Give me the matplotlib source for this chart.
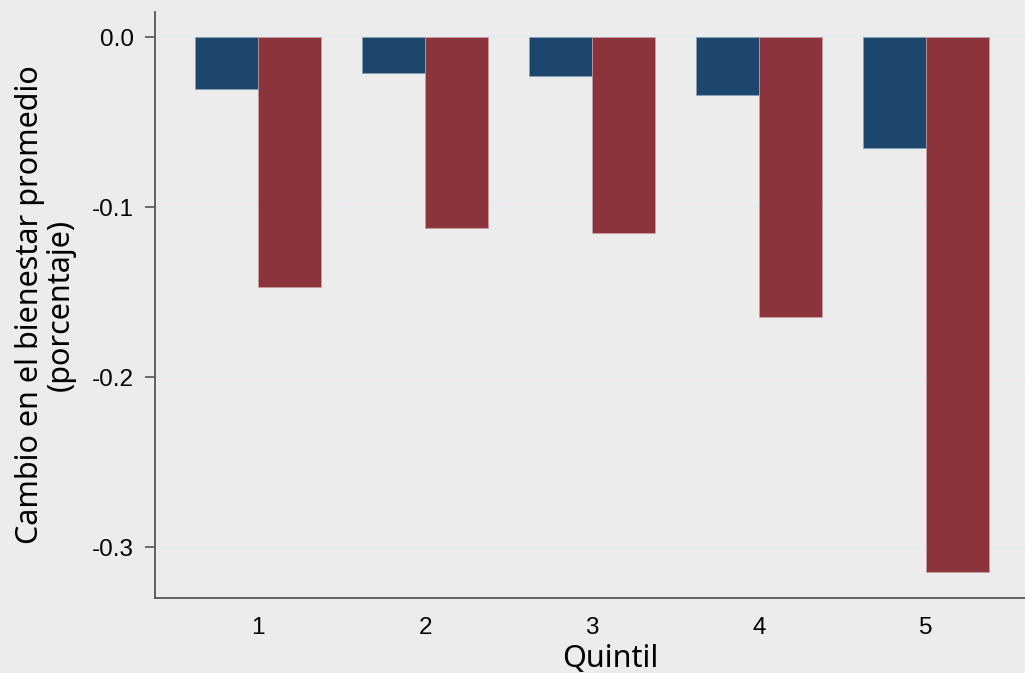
import matplotlib
matplotlib.use("Agg")
import matplotlib.pyplot as plt
import numpy as np

quintiles = [1, 2, 3, 4, 5]
serie_azul = [-0.0306, -0.0212, -0.0229, -0.0341, -0.0653]
serie_roja = [-0.1470, -0.1124, -0.1153, -0.1647, -0.3147]
y_ticks = [0.0, -0.1, -0.2, -0.3]
y_ticklabels = ["0.0", "-0.1", "-0.2", "-0.3"]

fig = plt.figure(figsize=(10.25, 6.73), dpi=100)
fig.patch.set_facecolor("#ececec")
ax = fig.add_axes([155/1025, 75/673, 1 - 155/1025, (598-12)/673])
ax.set_facecolor("#ececec")

x = np.array(quintiles)
w = 0.375
ax.bar(x - w/2, serie_azul, width=w, color="#1c466c", edgecolor="#8aa0b5", linewidth=0.5, zorder=3)
ax.bar(x + w/2, serie_roja, width=w, color="#8c343c", edgecolor="#c8a0a4", linewidth=0.5, zorder=3)

ax.set_xlim(0.383, 0.383 + 870/167)
ax.set_ylim(-0.33, 0.0148)
ax.set_yticks(y_ticks)
ax.set_yticklabels(y_ticklabels)
ax.set_xticks(quintiles)
ax.set_xticklabels([str(q) for q in quintiles])

for y in y_ticks:
    ax.axhline(y, color="#e4ecee", linewidth=1.2, zorder=1)

for s in ["top", "right"]:
    ax.spines[s].set_visible(False)
for s in ["left", "bottom"]:
    ax.spines[s].set_color("#555555")
    ax.spines[s].set_linewidth(1.3)

ax.tick_params(axis="y", length=7, width=1.2, color="#555555", labelsize=17.5, pad=8)
ax.tick_params(axis="x", length=0, labelsize=17.5, pad=14)
for lab in ax.get_xticklabels() + ax.get_yticklabels():
    lab.set_fontfamily("Liberation Sans")

ax.set_ylabel("Cambio en el bienestar promedio\n(porcentaje)", fontsize=22,
              fontfamily="Noto Sans", linespacing=1.0, labelpad=12)
ax.set_xlabel("Quintil", fontsize=22, fontfamily="Noto Sans", labelpad=3)
ax.xaxis.label.set_x((610 - 155) / 870)

fig.savefig("out.png", dpi=100, facecolor=fig.get_facecolor())
